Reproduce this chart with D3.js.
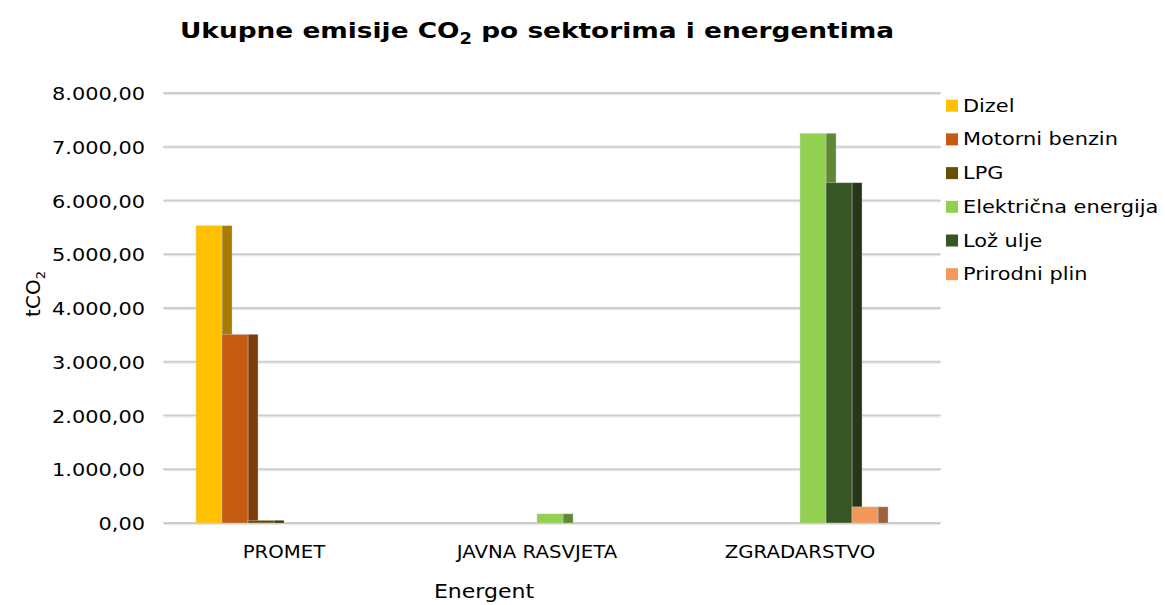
<!DOCTYPE html>
<html>
<head>
<meta charset="utf-8">
<script src="https://cdn.jsdelivr.net/npm/d3@7"></script>
<style>
  body { margin: 0; background: #fff; }
  text { font-family: 'DejaVu Sans', Verdana, sans-serif; fill: #000; }
</style>
</head>
<body>
<div id="chart"></div>
<script>
const categories = ['PROMET', 'JAVNA RASVJETA', 'ZGRADARSTVO']
const seriesNames = ['Dizel', 'Motorni benzin', 'LPG', 'Električna energija', 'Lož ulje', 'Prirodni plin']
const seriesColors = ['#ffc000', '#c55a11', '#665000', '#92d050', '#375623', '#f4975a']
// values per series, in category order
const dizel = [5530, 0, 0]
const motorniBenzin = [3510, 0, 0]
const lpg = [50, 0, 0]
const elektricna = [0, 170, 7250]
const lozUlje = [0, 0, 6330]
const prirodniPlin = [0, 0, 300]
const yTicks = [0, 1000, 2000, 3000, 4000, 5000, 6000, 7000, 8000]

const seriesValues = [dizel, motorniBenzin, lpg, elektricna, lozUlje, prirodniPlin]

const width = 1165
const height = 605
const sx = 1.16 // the picture is a little wider than tall

const svg = d3
  .select('#chart')
  .append('svg')
  .attr('width', width)
  .attr('height', height)

function label(str, x, y, anchor, size, weight) {
  return svg
    .append('text')
    .attr('transform', 'translate(' + x + ',' + y + ') scale(' + sx + ',1)')
    .attr('text-anchor', anchor)
    .attr('font-size', size)
    .attr('font-weight', weight || 'normal')
    .text(str)
}

const yScale = d3.scaleLinear().domain([0, 8000]).range([523, 93])
const xScale = d3.scaleBand().domain(categories).range([142.5, 931.5])
const groupWidth = 156
const depth = 10
const xSub = d3
  .scaleBand()
  .domain(seriesNames)
  .range([0, groupWidth])

const fmt = d3.formatLocale({ decimal: ',', thousands: '.', grouping: [3] }).format(',.2f')

// gridlines
const grid = svg.append('g')
grid
  .selectAll('line.g1')
  .data(yTicks)
  .enter()
  .append('line')
  .attr('x1', 164)
  .attr('x2', 940)
  .attr('y1', d => yScale(d))
  .attr('y2', d => yScale(d))
  .attr('stroke', '#cdcdcd')
  .attr('stroke-width', 2)
  .attr('stroke-linecap', 'round')
grid
  .selectAll('line.g2')
  .data(yTicks)
  .enter()
  .append('line')
  .attr('x1', 164)
  .attr('x2', 940)
  .attr('y1', d => yScale(d) + 1.5)
  .attr('y2', d => yScale(d) + 1.5)
  .attr('stroke', '#e6e6e6')
  .attr('stroke-width', 1)

// y tick labels
yTicks.forEach(t => {
  label(fmt(t), 145, yScale(t) + 7, 'end', 18)
})

// bars
const bars = []
categories.forEach((c, ci) => {
  seriesNames.forEach((s, si) => {
    bars.push({ cat: c, series: s, value: seriesValues[si][ci], color: seriesColors[si] })
  })
})

const offset = (xScale.bandwidth() - groupWidth) / 2
const barG = svg.append('g')
bars
  .filter(d => d.value > 0)
  .forEach(d => {
    const x0 = xScale(d.cat) + offset + xSub(d.series)
    const y0 = yScale(d.value)
    const h = yScale(0) - y0
    barG
      .append('rect')
      .attr('x', x0 + xSub.bandwidth())
      .attr('y', y0)
      .attr('width', depth)
      .attr('height', h)
      .attr('fill', d3.color(d.color).darker(1.2))
      .attr('stroke', 'rgba(200,200,200,0.6)')
      .attr('stroke-width', 0.6)
    barG
      .append('rect')
      .attr('x', x0)
      .attr('y', y0)
      .attr('width', xSub.bandwidth())
      .attr('height', h)
      .attr('fill', d.color)
      .attr('stroke', 'rgba(210,210,210,0.7)')
      .attr('stroke-width', 0.6)
  })

// category labels
categories.forEach((c, i) => {
  label(c, xScale(c) + xScale.bandwidth() / 2 + (i === 0 ? 10 : 0), 558, 'middle', 17)
})

// axis titles
label('Energent', 484, 598, 'middle', 19)
const yt = svg
  .append('text')
  .attr('transform', 'translate(40,294) rotate(-90)')
  .attr('text-anchor', 'middle')
  .attr('font-size', 20)
yt.append('tspan').text('tCO')
yt.append('tspan').attr('font-size', 13).attr('dy', 5).text('2')

// title
const title = svg
  .append('text')
  .attr('transform', 'translate(537,38) scale(1.2,1)')
  .attr('text-anchor', 'middle')
  .attr('font-size', 22)
  .attr('font-weight', 'bold')
title.append('tspan').text('Ukupne emisije CO')
title.append('tspan').attr('font-size', 15).attr('dy', 6).text('2')
title.append('tspan').attr('dy', -6).text(' po sektorima i energentima')

// legend
const legend = svg.append('g')
seriesNames.forEach((s, i) => {
  const y = 111.7 + i * 33.7
  legend
    .append('rect')
    .attr('x', 946)
    .attr('y', y - 12)
    .attr('width', 12)
    .attr('height', 12)
    .attr('fill', seriesColors[i])
  label(s, 963, y, 'start', 18)
})
</script>
</body>
</html>
